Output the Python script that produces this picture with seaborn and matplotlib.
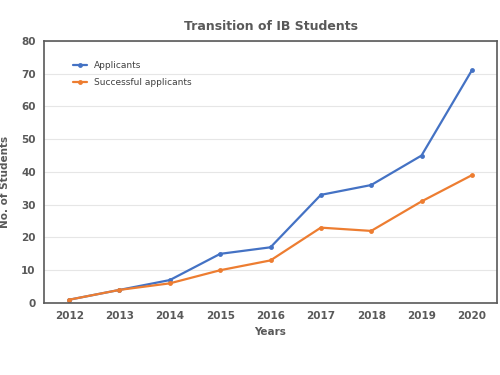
import pandas as pd
import seaborn as sns
import matplotlib.pyplot as plt

years = ['2012', '2013', '2014', '2015', '2016', '2017', '2018', '2019', '2020']
applicants = [1, 4, 7, 15, 17, 33, 36, 45, 71]
successful = [1, 4, 6, 10, 13, 23, 22, 31, 39]

df = pd.DataFrame({
    'Years': years * 2,
    'No. of Students': applicants + successful,
    'series': ['Applicants'] * len(years) + ['Successful applicants'] * len(years),
})

sns.set_style('white')
plt.rcParams['font.family'] = ['DejaVu Sans']

fig = plt.figure(figsize=(5, 3.75), dpi=100)
ax = fig.add_axes([0.088, 0.192, 0.906, 0.699])

sns.lineplot(data=df, x='Years', y='No. of Students', hue='series',
             palette=['#4472C4', '#ED7D31'], marker='o', markersize=3.5,
             markeredgewidth=0, linewidth=1.6, ax=ax)

ax.set_xlim(-0.5, 8.5)
ax.set_ylim(0, 80)
ax.set_yticks(range(0, 81, 10))
ax.yaxis.grid(True, color='#e6e6e6', linewidth=0.8)
ax.set_axisbelow(True)
for s in ax.spines.values():
    s.set_color('#595959')
    s.set_linewidth(1.2)

ax.tick_params(axis='both', length=0, labelsize=7.5, labelcolor='#595959', pad=6)
for lab in ax.get_xticklabels() + ax.get_yticklabels():
    lab.set_fontweight('bold')

ax.set_title('Transition of IB Students', fontsize=9, fontweight='bold',
             color='#595959', pad=8)
ax.set_xlabel('Years', fontsize=7.5, fontweight='bold', color='#595959', labelpad=4)
ax.set_ylabel('No. of Students', fontsize=7.5, fontweight='bold', color='#595959')
ax.yaxis.set_label_coords(-0.075, 0.46)

ax.legend(loc='upper left', bbox_to_anchor=(0.045, 0.955), frameon=False,
          fontsize=6.5, handlelength=1.6, labelspacing=0.9, labelcolor='#404040')

fig.savefig('out.png', dpi=100)
